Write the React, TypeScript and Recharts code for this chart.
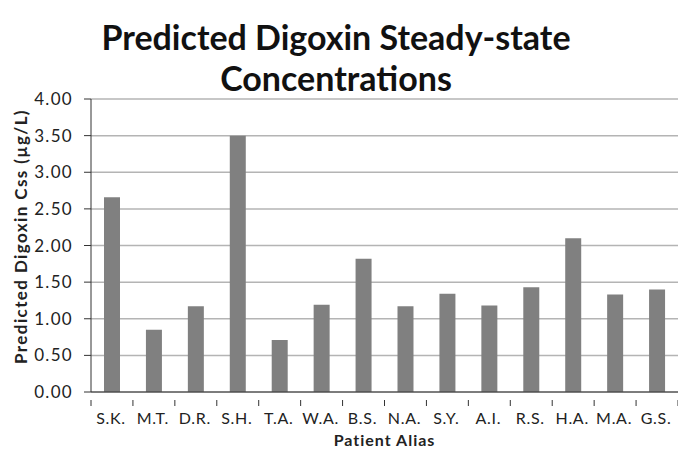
import { BarChart, Bar, XAxis, YAxis, CartesianGrid, Label } from "recharts"

const patients = ["S.K.", "M.T.", "D.R.", "S.H.", "T.A.", "W.A.", "B.S.", "N.A.", "S.Y.", "A.I.", "R.S.", "H.A.", "M.A.", "G.S."]
const cssValues = [2.66, 0.85, 1.17, 3.5, 0.71, 1.19, 1.82, 1.17, 1.34, 1.18, 1.43, 2.1, 1.33, 1.4]
const yTicks = [0, 0.5, 1, 1.5, 2, 2.5, 3, 3.5, 4]

const data = patients.map((name, i) => ({ name, css: cssValues[i] }))

const FONT = "Lato, 'Open Sans', sans-serif"
const PLOT_LEFT = 91
const PLOT_RIGHT = 678
const BAND = (PLOT_RIGHT - PLOT_LEFT) / patients.length

function PatientTick(props: any) {
  const { x, y, payload, index } = props
  const half = BAND / 2
  return (
    <g>
      <line x1={x - half} y1={y} x2={x - half} y2={y + 6} stroke="#333" strokeWidth={1} />
      {index === patients.length - 1 && (
        <line x1={x + half} y1={y} x2={x + half} y2={y + 6} stroke="#333" strokeWidth={1} />
      )}
      <text x={x - 1} y={y + 24} textAnchor="middle" fontSize={16} letterSpacing={0.7} fill="#222" fontFamily={FONT}>
        {payload.value}
      </text>
    </g>
  )
}

export default function App() {
  return (
    <div style={{ position: "absolute", left: 0, top: 0, width: 678, height: 450, background: "#fff" }}>
      <div
        style={{
          position: "absolute",
          left: 0,
          top: 16,
          width: 672,
          textAlign: "center",
          fontFamily: FONT,
          fontWeight: 700,
          fontSize: 34,
          lineHeight: "41px",
          color: "#111",
        }}
      >
        Predicted Digoxin Steady-state
        <br />
        Concentrations
      </div>
      <BarChart
        width={678}
        height={450}
        data={data}
        margin={{ top: 99, right: 0, left: 0, bottom: 0 }}
        barCategoryGap="31%"
      >
        <CartesianGrid vertical={false} stroke="#b4b4b4" strokeWidth={1.5} />
        <XAxis
          dataKey="name"
          height={58}
          tickLine={false}
          axisLine={{ stroke: "#333" }}
          tick={<PatientTick />}
          interval={0}
        >
          <Label
            value="Patient Alias"
            position="insideBottom"
            offset={4}
            style={{ fontFamily: FONT, fontWeight: 700, fontSize: 16, letterSpacing: 1, fill: "#222" }}
          />
        </XAxis>
        <YAxis
          width={PLOT_LEFT}
          domain={[0, 4]}
          ticks={yTicks}
          tickFormatter={(v: number) => v.toFixed(2)}
          axisLine={{ stroke: "#333" }}
          tickLine={{ stroke: "#333" }}
          tickSize={7}
          tickMargin={11}
          tick={{ fontFamily: FONT, fontSize: 17, letterSpacing: 1.3, fill: "#222" }}
        >
          <Label
            value="Predicted Digoxin Css  (µg/L)"
            angle={-90}
            position="insideLeft"
            offset={21}
            dy={-9}
            style={{ fontFamily: FONT, fontWeight: 700, fontSize: 17, letterSpacing: 1.4, fill: "#222", textAnchor: "middle" }}
          />
        </YAxis>
        <Bar dataKey="css" fill="#808080" isAnimationActive={false} />
      </BarChart>
    </div>
  )
}
